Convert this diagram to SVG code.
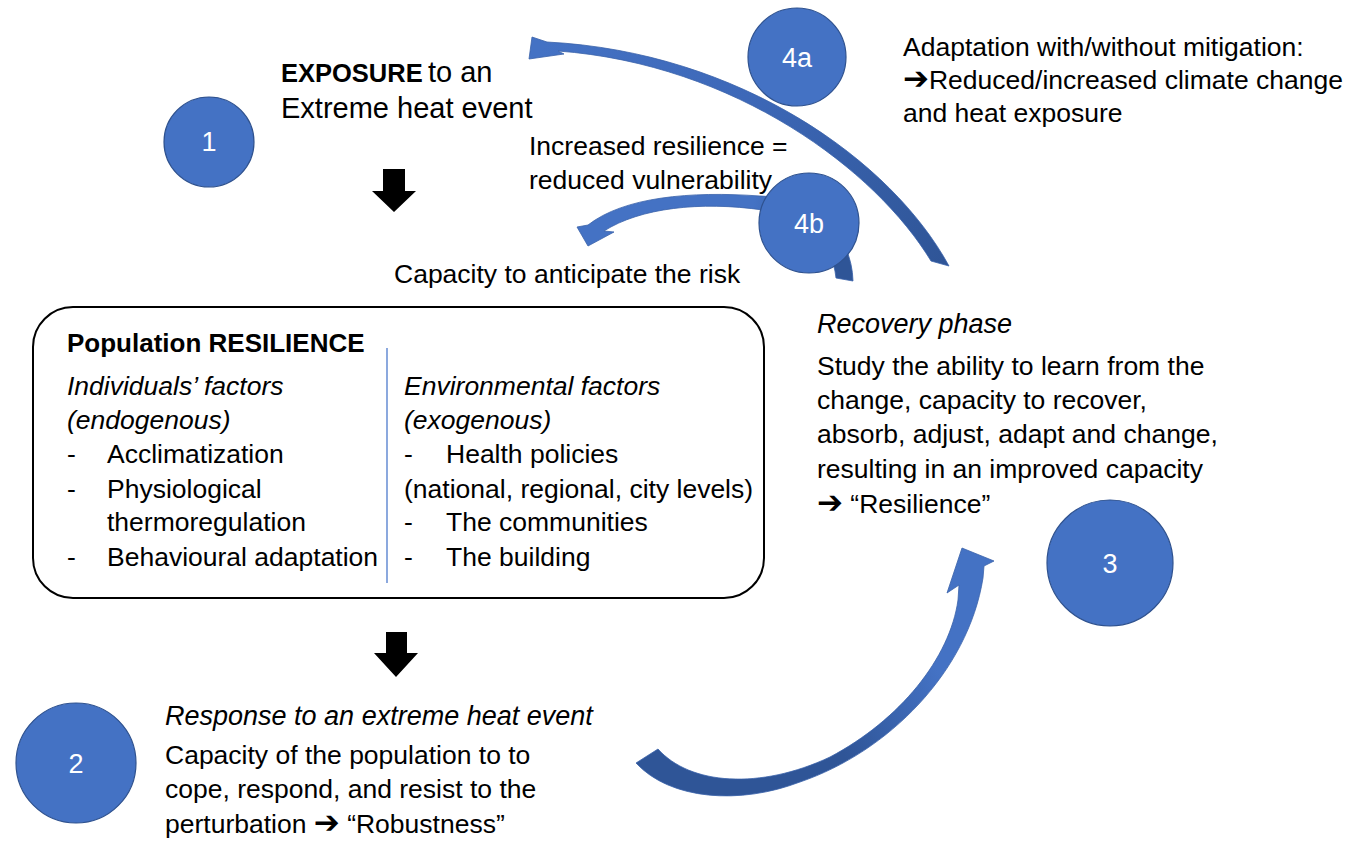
<svg xmlns="http://www.w3.org/2000/svg" width="1365" height="841" viewBox="0 0 1365 841">
  <defs>
    <style>
      .t { font-family: "Liberation Sans", Arial, sans-serif; font-size: 26.5px; fill: #000; }
      .it { font-style: italic; font-size: 27px; }
      .big { font-size: 29px; }
      .b { font-weight: bold; }
      .sym { font-family: "DejaVu Sans", sans-serif; font-weight: bold; font-size: 31px; }
      .node circle { fill: #4472C4; stroke: #2F528F; stroke-width: 1.2; }
      .node text { font-family: "Liberation Sans", Arial, sans-serif; font-size: 27px; fill: #fff; text-anchor: middle; }
      .ribbon { stroke: #3A62AA; stroke-width: 0.8; stroke-linejoin: round; }
      .block { fill: #000; }
    </style>
    <linearGradient id="gradTop" gradientUnits="userSpaceOnUse" x1="540" y1="50" x2="945" y2="260">
      <stop offset="0" stop-color="#4472C4"/>
      <stop offset="0.45" stop-color="#3D68B8"/>
      <stop offset="1" stop-color="#2F5597"/>
    </linearGradient>
    <linearGradient id="gradMid" gradientUnits="userSpaceOnUse" x1="590" y1="230" x2="850" y2="270">
      <stop offset="0" stop-color="#4472C4"/>
      <stop offset="0.6" stop-color="#4472C4"/>
      <stop offset="0.85" stop-color="#2F5597"/>
      <stop offset="1" stop-color="#2F5597"/>
    </linearGradient>
    <linearGradient id="gradBottom" gradientUnits="userSpaceOnUse" x1="640" y1="780" x2="990" y2="560">
      <stop offset="0" stop-color="#2F5597"/>
      <stop offset="0.45" stop-color="#2F5597"/>
      <stop offset="0.75" stop-color="#4472C4"/>
      <stop offset="1" stop-color="#4472C4"/>
    </linearGradient>
  </defs>

  <rect width="1365" height="841" fill="#fff"/>

  <!-- curved and block arrows -->
  <g id="connectors">
    <!-- 4a: recovery back to exposure -->
    <path class="ribbon" fill="url(#gradTop)" d="M 547,42 C 740,52 892,161 949,266 L 931,261 C 876,170 735,64 558,51 L 564,54 L 529,59 L 532,37 Z"/>
    <!-- 4b: recovery back to anticipation -->
    <path class="ribbon" fill="url(#gradMid)" d="M 853,281 C 852,235 815,197 760,196 C 690,191 624,197 588,225 L 577,227 L 588,246 L 614,232 L 604,231 C 640,208 700,201 763,210 C 805,216 832,240 836,278 Z"/>
    <!-- response to recovery -->
    <path class="ribbon" fill="url(#gradBottom)" d="M 636,763 C 670,800 740,805 800,782 C 888,752 968,672 983,578 L 984,566 L 994,561 L 962,548 L 947,593 L 959,585 L 958,600 C 950,658 900,720 830,757 C 760,790 690,785 658,749 Z"/>
    <!-- exposure to resilience -->
    <polygon class="block" points="383,169 405,169 405,191 416,191 394,212 372,191 383,191"/>
    <!-- resilience to response -->
    <polygon class="block" points="386,632 407,632 407,653 418,653 396,677 374,653 386,653"/>
  </g>

  <g id="node-1" class="node">
    <circle cx="209" cy="142" r="45"/>
    <text x="209" y="151">1</text>
  </g>
  <g id="node-4a" class="node">
    <circle cx="797" cy="57" r="49"/>
    <text x="797" y="67">4a</text>
  </g>
  <g id="node-4b" class="node">
    <circle cx="809" cy="223" r="50"/>
    <text x="809" y="233">4b</text>
  </g>
  <g id="node-3" class="node">
    <circle cx="1110" cy="563" r="63"/>
    <text x="1110" y="573">3</text>
  </g>
  <g id="node-2" class="node">
    <circle cx="76" cy="763" r="60"/>
    <text x="76" y="773">2</text>
  </g>

  <g id="exposure" class="t big">
    <text class="b" x="281" y="82" style="font-size:25.5px">EXPOSURE</text>
    <text x="428" y="82">to an</text>
    <text x="281" y="118">Extreme heat event</text>
  </g>

  <g id="adaptation-note" class="t">
    <text x="903" y="56">Adaptation with/without mitigation:</text>
    <text x="903" y="89"><tspan class="sym">➔</tspan>Reduced/increased  climate change</text>
    <text x="903" y="122">and heat exposure</text>
  </g>

  <g id="resilience-note" class="t">
    <text x="529" y="155">Increased resilience =</text>
    <text x="529" y="189">reduced vulnerability</text>
  </g>

  <g id="anticipate" class="t">
    <text x="394" y="283">Capacity to anticipate the risk</text>
  </g>

  <g id="population-resilience">
    <rect x="33" y="307" width="731" height="291" rx="40" ry="40" fill="#fff" stroke="#000" stroke-width="2"/>
    <line x1="387" y1="348" x2="387" y2="583" stroke="#6F93D6" stroke-width="1.6"/>
    <text class="t b" x="67" y="352" style="font-size:26px">Population RESILIENCE</text>
    <g class="t">
      <text class="it" x="67" y="395" style="font-size:26.5px">Individuals’ factors</text>
      <text class="it" x="67" y="429" style="font-size:26.5px">(endogenous)</text>
      <text x="67" y="463">-</text><text x="107" y="463">Acclimatization</text>
      <text x="67" y="498">-</text><text x="107" y="498">Physiological</text>
      <text x="107" y="531">thermoregulation</text>
      <text x="67" y="566">-</text><text x="107" y="566">Behavioural adaptation</text>
      <text class="it" x="404" y="395" style="font-size:26.5px">Environmental factors</text>
      <text class="it" x="404" y="429" style="font-size:26.5px">(exogenous)</text>
      <text x="404" y="463">-</text><text x="446" y="463">Health policies</text>
      <text x="404" y="498">(national, regional, city levels)</text>
      <text x="404" y="531">-</text><text x="446" y="531">The communities</text>
      <text x="404" y="566">-</text><text x="446" y="566">The building</text>
    </g>
  </g>

  <g id="recovery" class="t">
    <text class="it" x="817" y="333">Recovery phase</text>
    <text x="817" y="375">Study the ability to learn from the</text>
    <text x="817" y="409">change, capacity to recover,</text>
    <text x="817" y="443">absorb, adjust, adapt and change,</text>
    <text x="817" y="478">resulting in an improved capacity</text>
    <text x="817" y="513"><tspan class="sym">➔</tspan> “Resilience”</text>
  </g>

  <g id="response" class="t">
    <text class="it" x="165" y="725">Response to an extreme heat event</text>
    <text x="165" y="764">Capacity of the population to to</text>
    <text x="165" y="798">cope, respond, and resist to the</text>
    <text x="165" y="833">perturbation <tspan class="sym">➔</tspan> “Robustness”</text>
  </g>
</svg>
